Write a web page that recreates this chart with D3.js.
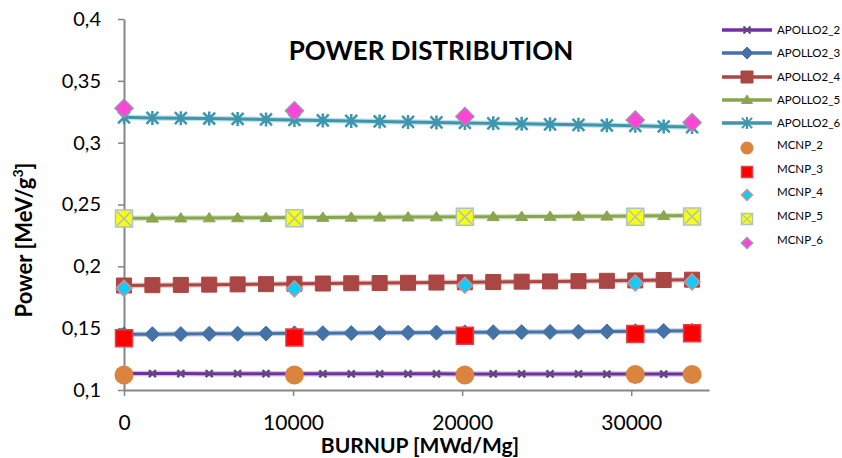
<!DOCTYPE html>
<html>
<head>
<script src='https://d3js.org/d3.v7.min.js'></script>
<title>Power distribution</title>
<style>
body {margin:0; background-color:white;}
svg text {font-family:Lato, 'Open Sans', sans-serif;}
</style>
</head>
<body>
<svg width=842 height=458></svg>

<script>
// burnup steps [MWd/Mg]
var apolloBurnup = [0,1680,3360,5040,6720,8400,10080,11760,13440,15120,16800,18480,20160,21840,23520,25200,26880,28560,30240,31920,33600]
var mcnpBurnup = [0,10080,20160,30240,33600]

// power [MeV/g3]
var apollo2 = [0.1133,0.1133,0.1133,0.1132,0.1132,0.1132,0.1132,0.1131,0.1131,0.1131,0.1131,0.1131,0.1130,0.1130,0.1130,0.1130,0.1130,0.1129,0.1129,0.1129,0.1129]
var apollo3 = [0.1450,0.1451,0.1452,0.1454,0.1455,0.1456,0.1458,0.1459,0.1460,0.1462,0.1463,0.1464,0.1466,0.1467,0.1468,0.1470,0.1471,0.1473,0.1475,0.1477,0.1479]
var apollo4 = [0.1845,0.1848,0.1850,0.1852,0.1854,0.1856,0.1859,0.1861,0.1863,0.1865,0.1867,0.1869,0.1871,0.1873,0.1876,0.1878,0.1880,0.1883,0.1886,0.1889,0.1892]
var apollo5 = [0.2388,0.2389,0.2390,0.2391,0.2392,0.2393,0.2394,0.2395,0.2396,0.2397,0.2398,0.2399,0.2400,0.2401,0.2402,0.2403,0.2404,0.2405,0.2407,0.2409,0.2411]
var apollo6 = [0.3205,0.3200,0.3198,0.3195,0.3192,0.3188,0.3184,0.3180,0.3176,0.3172,0.3168,0.3164,0.3160,0.3156,0.3152,0.3148,0.3144,0.3140,0.3136,0.3131,0.3126]

var mcnp2 = [0.1121,0.1121,0.1121,0.1125,0.1125]
var mcnp3 = [0.1418,0.1424,0.1438,0.1453,0.1458]
var mcnp4 = [0.1822,0.1818,0.1847,0.1865,0.1874]
var mcnp5 = [0.2386,0.2388,0.2400,0.2401,0.2402]
var mcnp6 = [0.3278,0.3258,0.3212,0.3183,0.3163]

var xTicks = [0,10000,20000,30000]
var yTicks = [0.1,0.15,0.2,0.25,0.3,0.35,0.4]

var svg = d3.select('svg')
var axisColor = '#868686'

//scales
var x = d3.scaleLinear().domain([0,34600]).range([124,709])
var y = d3.scaleLinear().domain([0.1,0.4]).range([390,19])

//marker shapes
function markX(s) {return 'M'+(-s)+','+(-s)+'L'+s+','+s+'M'+(-s)+','+s+'L'+s+','+(-s)}
function markStar(s) {return markX(s*0.85)+'M0,'+(-s)+'L0,'+s}
function markDiamond(s) {return 'M0,'+(-s)+'L'+s+',0L0,'+s+'L'+(-s)+',0Z'}
function markSquare(s) {return 'M'+(-s)+','+(-s)+'H'+s+'V'+s+'H'+(-s)+'Z'}
function markTri(s) {return 'M0,'+(-s)+'L'+(s*1.1)+','+(s*0.7)+'L'+(-s*1.1)+','+(s*0.7)+'Z'}
function markCircle(s) {return d3.symbol(d3.symbolCircle, Math.PI*s*s)()}

var apollo = [
  {name:'APOLLO2_2', values:apollo2, color:'#7030A0', mcolor:'#604A7B', shape:markX, size:3.5, fill:false, legSize:3.5},
  {name:'APOLLO2_3', values:apollo3, color:'#4572A7', mcolor:'#4572A7', shape:markDiamond, size:7.5, fill:true, legSize:6},
  {name:'APOLLO2_4', values:apollo4, color:'#AA4643', mcolor:'#AA4643', shape:markSquare, size:7.5, fill:true, legSize:6},
  {name:'APOLLO2_5', values:apollo5, color:'#89A54E', mcolor:'#89A54E', shape:markTri, size:5.5, fill:true, legSize:5},
  {name:'APOLLO2_6', values:apollo6, color:'#3D96AE', mcolor:'#3D96AE', shape:markStar, size:7, fill:false, legSize:6}
]
var mcnp = [
  {name:'MCNP_2', values:mcnp2, fill:'#DB843D', stroke:'none', shape:markCircle, size:9.5, legSize:6.5},
  {name:'MCNP_3', values:mcnp3, fill:'#FF0000', stroke:'#E0404A', shape:markSquare, size:8.5, legSize:5.5},
  {name:'MCNP_4', values:mcnp4, fill:'#11CCF8', stroke:'#D09090', shape:markDiamond, size:8, legSize:5.5},
  {name:'MCNP_5', values:mcnp5, fill:'#FFFF00', stroke:'#A9C4C4', shape:markSquare, size:8.5, legSize:5.5, cross:true},
  {name:'MCNP_6', values:mcnp6, fill:'#FF44D8', stroke:'#A090B0', shape:markDiamond, size:9, legSize:5.5}
]

//axes
var yAxis = svg.append('g')
    .attr('transform','translate(124,0)')
    .call(d3.axisLeft(y).tickValues(yTicks).tickSize(6).tickSizeOuter(0)
          .tickFormat(function(d) {return String(+d.toFixed(2)).replace('.',',')}))
var xAxis = svg.append('g')
    .attr('transform','translate(0,390)')
    .call(d3.axisBottom(x).tickValues(xTicks).tickSize(6).tickSizeOuter(0).tickFormat(d3.format('d')))

svg.selectAll('.domain').attr('stroke',axisColor).attr('stroke-width',2)
svg.selectAll('.tick line').attr('stroke',axisColor).attr('stroke-width',1.5)
yAxis.selectAll('text').attr('font-size',20).attr('fill','#000').attr('x',-23).attr('font-family','Lato')
xAxis.selectAll('text').attr('font-size',21).attr('fill','#000').attr('y',25).attr('font-family','Lato')

//apollo lines with markers
var line = d3.line().x(function(d,i) {return x(apolloBurnup[i])}).y(function(d) {return y(d)})

apollo.forEach(function(s) {
  var g = svg.append('g')
  g.append('path').attr('d',line(s.values)).attr('fill','none')
    .attr('stroke',s.color).attr('stroke-width',5.5).attr('opacity',0.3)
  g.append('path').attr('d',line(s.values)).attr('fill','none')
    .attr('stroke',s.color).attr('stroke-width',3)
  g.selectAll('.m').data(s.values).enter().append('path')
    .attr('transform',function(d,i) {return 'translate('+x(apolloBurnup[i])+','+y(d)+')'})
    .attr('d',s.shape(s.size))
    .attr('fill',s.fill ? s.mcolor : 'none')
    .attr('stroke',s.mcolor)
    .attr('stroke-width',s.fill ? 1 : 2.5)
    .attr('stroke-linejoin','round')
})

//mcnp points
mcnp.forEach(function(s) {
  var g = svg.append('g')
  var pts = g.selectAll('.m').data(s.values).enter().append('g')
    .attr('transform',function(d,i) {return 'translate('+x(mcnpBurnup[i])+','+y(d)+')'})
  pts.append('path').attr('d',s.shape(s.size)).attr('fill',s.fill)
    .attr('stroke',s.stroke).attr('stroke-width',1.5)
  if (s.cross) pts.append('path').attr('d',markX(s.size-1.5)).attr('stroke',s.stroke).attr('stroke-width',1.5)
})

//title and axis labels
svg.append('text')
    .attr('x',431).attr('y',60)
    .attr('text-anchor','middle')
    .attr('font-size',26).attr('font-weight','bold')
    .text('POWER DISTRIBUTION')

svg.append('text')
    .attr('x',420).attr('y',453)
    .attr('text-anchor','middle')
    .attr('font-size',21).attr('font-weight','bold')
    .text('BURNUP [MWd/Mg]')

svg.append('text')
    .attr('transform','translate(32,240) rotate(-90)')
    .attr('text-anchor','middle')
    .attr('font-size',22).attr('font-weight','bold')
    .html('Power [MeV/g<tspan dy=-9 font-size=14>3</tspan><tspan dy=9>]</tspan>')

//legend
var legY = [30,53,77,100,123]
apollo.forEach(function(s,i) {
  var g = svg.append('g').attr('transform','translate(747,'+legY[i]+')')
  g.append('line').attr('x1',-25).attr('x2',25).attr('stroke',s.color).attr('stroke-width',3.5)
  g.append('path').attr('d',s.shape(s.legSize))
    .attr('fill',s.fill ? s.mcolor : 'none').attr('stroke',s.mcolor)
    .attr('stroke-width',s.fill ? 1 : 2)
  g.append('text').attr('x',30).attr('y',4).attr('font-size',11.5).text(s.name)
})
var legY2 = [148,172,195,219,243]
mcnp.forEach(function(s,i) {
  var g = svg.append('g').attr('transform','translate(747,'+legY2[i]+')')
  g.append('path').attr('d',s.shape(s.legSize)).attr('fill',s.fill)
    .attr('stroke',s.stroke).attr('stroke-width',1.5)
  if (s.cross) g.append('path').attr('d',markX(s.legSize-1)).attr('stroke',s.stroke).attr('stroke-width',1.2)
  g.append('text').attr('x',30).attr('y',1).attr('font-size',11.5).text(s.name)
})
</script>
</body>
</html>
